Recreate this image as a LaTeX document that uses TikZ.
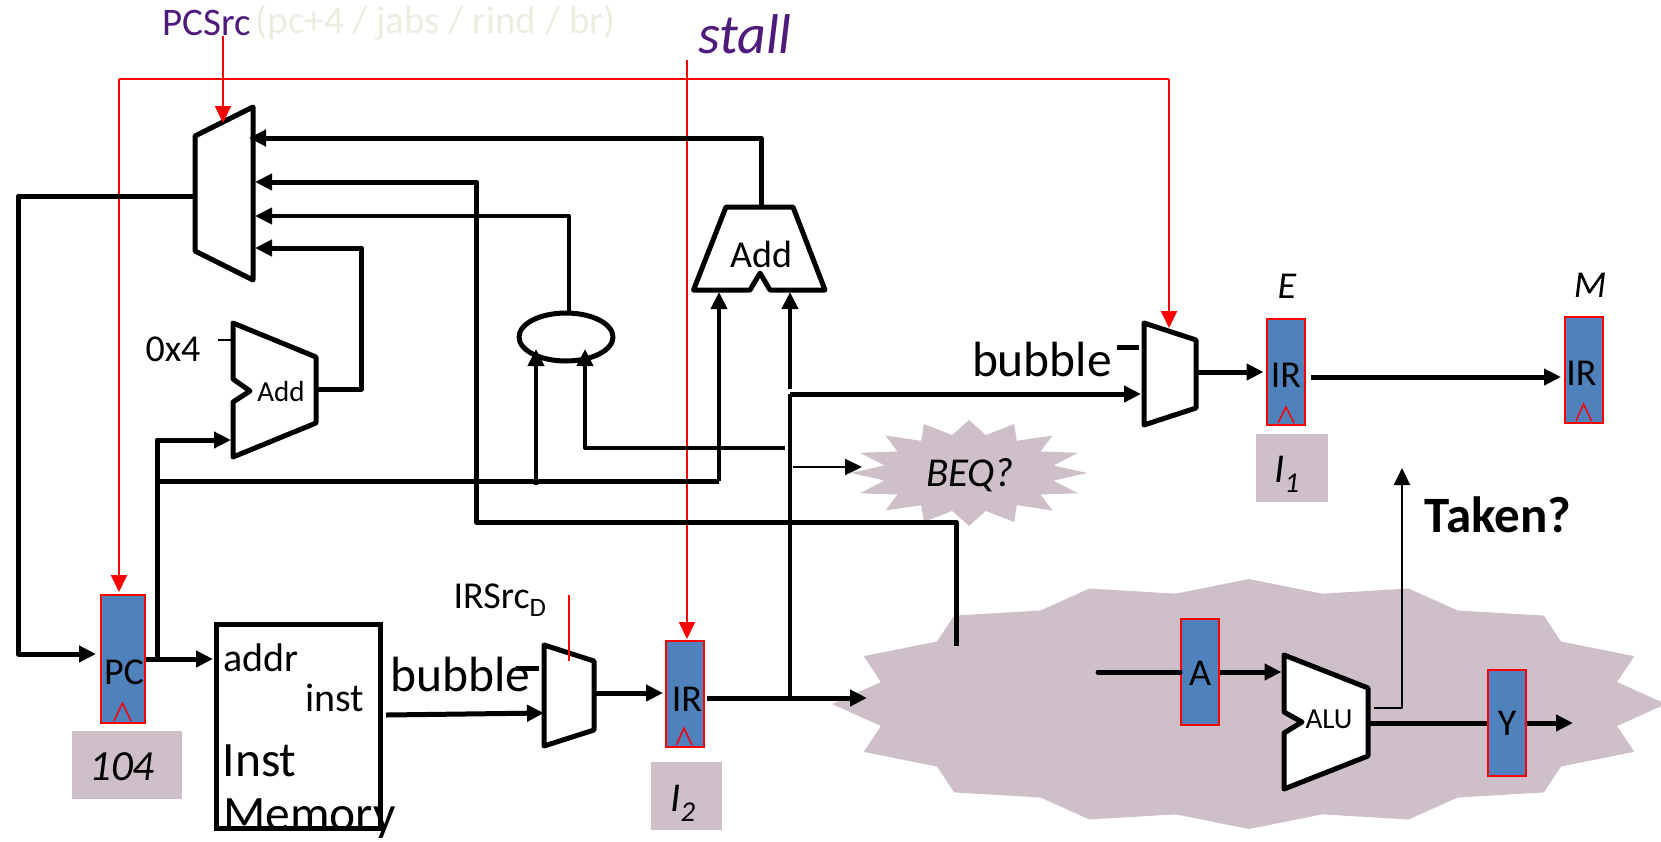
\documentclass[tikz,border=0pt]{standalone}
\usepackage{fontspec}
\setmainfont{Carlito}
\usetikzlibrary{arrows.meta}
\definecolor{regblue}{HTML}{4F81BD}
\definecolor{hazefill}{HTML}{CFBFC9}
\definecolor{signalpurple}{HTML}{4F1A7C}
\definecolor{fadedtan}{HTML}{EEECE1}
\tikzset{
  >={Triangle[length=17pt,width=16pt]},
  wire/.style={line width=5pt,line join=round},
  midwire/.style={line width=4pt,line join=round},
  thinwire/.style={line width=2pt,line join=round},
  redwire/.style={line width=2pt,red,line join=round},
  unit/.style={line width=5pt,line join=round,fill=white},
  pipereg/.style={draw=red,fill=regblue,line width=2pt,inner sep=0pt,minimum width=38pt,minimum height=106pt},
  clockmark/.style={line width=1.5pt,red},
  greybox/.style={fill=hazefill,inner sep=0pt},
  txt/.style={inner sep=0pt,font=\fontsize{38}{40}\selectfont},
  bigtxt/.style={inner sep=0pt,font=\fontsize{49.5}{52}\selectfont},
  smalltxt/.style={inner sep=0pt,font=\fontsize{29}{30}\selectfont},
  italtxt/.style={inner sep=0pt,font=\fontsize{41}{44}\selectfont\itshape}
}
\begin{document}
\begin{tikzpicture}[x=1pt,y=-1pt]
  \useasboundingbox (0,0) rectangle (1661,841);
  % burst shapes
  \fill[hazefill] plot[samples at={0,...,31},variable=\k] ({969+118*cos(\k*11.25)*(1-.27*mod(\k,2))},{473+53*sin(\k*11.25)*(1-.27*mod(\k,2))}) -- cycle;
  \fill[hazefill] plot[samples at={0,...,31},variable=\k] ({1249+417*cos(\k*11.25)*(1-.1*mod(\k,2))},{704+125*sin(\k*11.25)*(1-.1*mod(\k,2))}) -- cycle;
  \node[italtxt] (beq) at (970,475) {BEQ?};
  % value boxes
  \node[greybox,minimum width=110pt,minimum height=68pt] (pcval) at (127,765) {};
  \node[italtxt,font=\fontsize{43}{46}\selectfont\itshape] (pcvaltext) at (122,767) {104};
  \node[greybox,minimum width=71pt,minimum height=68pt] (itwo) at (686.5,796) {};
  \node[italtxt] (itwotext) at (683,803) {I\textsubscript{2}};
  \node[greybox,minimum width=72pt,minimum height=68pt] (ione) at (1292,468) {};
  \node[italtxt] (ionetext) at (1287,474) {I\textsubscript{1}};
  % control lines at the back
  \coordinate (stalltop) at (687,60);
  \coordinate (ctrlleft) at (119,79);
  \coordinate (ctrlright) at (1169,79);
  \coordinate (pcstall) at (119,592);
  \coordinate (muxestall) at (1169,328);
  \coordinate (irdstall) at (687,639);
  \draw[redwire,->] (ctrlleft) -- (pcstall);
  \draw[redwire] (ctrlleft) -- (ctrlright);
  \draw[redwire,->] (ctrlright) -- (muxestall);
  \draw[redwire,->] (stalltop) -- (irdstall);
  % muxes and adders
  \draw[unit] (195,136) -- (253,107) -- (253,280) -- (195,251) -- cycle;
  \draw[unit] (544,645) -- (594,661) -- (594,730) -- (544,746) -- cycle;
  \draw[unit] (1144,323) -- (1196,340) -- (1196,408) -- (1144,425) -- cycle;
  \draw[unit] (726,207) -- (793,207) -- (825,290) -- (770,290) -- (760,273) -- (750,290) -- (693.5,290) -- cycle;
  \node[txt] (addbtext) at (761,254) {Add};
  \draw[unit] (233,323) -- (316,357) -- (316,423) -- (233,457) -- (233,402) -- (250,391) -- (233,379) -- cycle;
  \node[smalltxt] (addpctext) at (281,392) {Add};
  \draw[unit] (1284,655) -- (1368,688) -- (1368,756) -- (1284,789) -- (1284,733) -- (1302,722) -- (1284,712) -- cycle;
  \node[smalltxt] (alutext) at (1329,719) {ALU};
  \draw[unit] (566,337) ellipse (47 and 24);
  \node[draw,line width=5pt,fill=white,inner sep=0pt,minimum width=164pt,minimum height=204pt] (imem) at (298,726) {};
  % registers
  \node[pipereg,minimum width=44pt,minimum height=128pt] (pc) at (123,659) {};
  \node[pipereg] (ird) at (685,694) {};
  \node[pipereg] (ire) at (1286,371.5) {};
  \node[pipereg] (irm) at (1584,370) {};
  \node[pipereg] (rega) at (1200,672) {};
  \node[pipereg] (regy) at (1507,723) {};
  \node[txt] (pctext) at (124,672) {PC};
  \node[txt] (irdtext) at (687,699) {IR};
  \node[txt] (iretext) at (1286,375) {IR};
  \node[txt] (irmtext) at (1581.5,373) {IR};
  \node[txt] (regatext) at (1200,673) {A};
  \node[txt] (regytext) at (1507,723) {Y};
  \draw[clockmark] (114,721) -- (122.5,703) -- (131,721);
  \draw[clockmark] (676.5,745) -- (684,728) -- (692,745);
  \draw[clockmark] (1278,423) -- (1286,407) -- (1294,423);
  \draw[clockmark] (1576,421) -- (1583.5,404) -- (1591.5,421);
  % named ends of the data wires
  \coordinate (pcmuxout) at (195,196);
  \coordinate (pcback) at (18.5,196);
  \coordinate (pcin) at (96,654);
  \coordinate (pcout) at (146,659);
  \coordinate (imemin) at (213,659);
  \coordinate (pcbranch) at (157,659);
  \coordinate (addpcin) at (231,440);
  \coordinate (pcbus) at (157,481);
  \coordinate (addbleft) at (719,292);
  \coordinate (addbright) at (790,292);
  \coordinate (addbright0) at (790,389);
  \coordinate (addbout) at (761,206);
  \coordinate (muxin1) at (249,138);
  \coordinate (muxin2) at (255,182);
  \coordinate (muxin3) at (255,216);
  \coordinate (muxin4) at (255,248);
  \coordinate (jump1) at (476.5,522);
  \coordinate (jump2) at (956,522);
  \coordinate (jump3) at (956,646);
  \coordinate (cmptop) at (569,313);
  \coordinate (addpcout) at (316,389);
  \coordinate (addpccorner) at (361.5,389);
  \coordinate (cmpleft) at (536,349);
  \coordinate (cmpleft0) at (536,485);
  \coordinate (cmpright) at (585,349);
  \coordinate (cmpright0) at (784.5,448);
  \coordinate (beqin0) at (792.5,467);
  \coordinate (beqin) at (862,467);
  \coordinate (irdout) at (707,698);
  \coordinate (irdjoin) at (790,698);
  \coordinate (burstin) at (867,698);
  \coordinate (muxein) at (1141,394);
  \coordinate (muxein0) at (790,394);
  \coordinate (imemout) at (386,715);
  \coordinate (muxdin) at (544,713);
  \coordinate (muxdout) at (596,693);
  \coordinate (irdin) at (663,693);
  \coordinate (muxeout) at (1197,372);
  \coordinate (irein) at (1263.5,372);
  \coordinate (ireout) at (1311,377);
  \coordinate (irmin) at (1561,377);
  \coordinate (aluin) at (1281.5,672);
  \coordinate (ain0) at (1098,672);
  \coordinate (aluout) at (1368,723);
  \coordinate (yout) at (1573,723);
  \coordinate (takenout) at (1374,708);
  \coordinate (takentip) at (1402,468);
  % data wires
  \draw[wire,->] (pcmuxout) -- (pcback) |- (pcin);
  \draw[wire,->] (pcout) -- (imemin);
  \draw[wire,->] (pcbranch) |- (addpcin);
  \draw[wire] (pcbus) -- (addbleft |- pcbus);
  \draw[midwire,->] (addbleft |- pcbus) -- (addbleft);
  \draw[midwire,->] (cmpleft0) -- (cmpleft);
  \draw[midwire,->] (cmpright0) -| (cmpright);
  \draw[wire,->] (addbout) |- (muxin1);
  \draw[wire,->] (jump3) -- (jump2) -- (jump1) |- (muxin2);
  \draw[midwire,->] (cmptop) |- (muxin3);
  \draw[wire,->] (addpcout) -- (addpccorner) |- (muxin4);
  \draw[midwire,->] (addbright0) -- (addbright);
  \draw[midwire] (irdjoin) -- (muxein0);
  \draw[wire,->] (muxein0) -- (muxein);
  \draw[thinwire,->] (beqin0) -- (beqin);
  \draw[wire,->] (irdout) -- (burstin);
  \draw[wire,->] (imemout) -- (muxdin);
  \draw[wire,->] (muxdout) -- (irdin);
  \draw[wire,->] (muxeout) -- (irein);
  \draw[wire,->] (ireout) -- (irmin);
  \draw[wire,line cap=round] (ain0) -- (rega.west);
  \draw[wire,->] (rega.east) -- (aluin);
  \draw[wire] (aluout) -- (regy.west);
  \draw[wire,->] (regy.east) -- (yout);
  \draw[thinwire,->] (takenout) -| (takentip);
  % stubs
  \coordinate (fourtick) at (218,340);
  \coordinate (fourin) at (233,340);
  \draw[thinwire] (fourtick) -- (fourin);
  \coordinate (bubbled0) at (516,668);
  \coordinate (bubbled) at (539,668);
  \draw[wire] (bubbled0) -- (bubbled);
  \coordinate (bubblee0) at (1117,347);
  \coordinate (bubblee) at (1139,347);
  \draw[wire] (bubblee0) -- (bubblee);
  % control signals on top
  \coordinate (pcsrctop) at (223,36);
  \coordinate (pcsrctip) at (223,123);
  \draw[redwire,->] (pcsrctop) -- (pcsrctip);
  \coordinate (irsrctop) at (569,595);
  \coordinate (irsrctip) at (569,661);
  \draw[redwire] (irsrctop) -- (irsrctip);
  % labels
  \node[txt,font=\fontsize{39}{42}\selectfont,text=signalpurple] (pcsrc) at (206.5,23) {PCSrc};
  \node[txt,font=\fontsize{39}{42}\selectfont,text=fadedtan] (pcsrcopts) at (435.5,23) {(pc+4 / jabs / rind / br)};
  \node[txt,font=\fontsize{56}{60}\selectfont\itshape,text=signalpurple] (stall) at (745,34) {stall};
  \node[txt] (four) at (173,349) {0x4};
  \node[txt,font=\fontsize{40}{42}\selectfont] (addr) at (261,658) {addr};
  \node[txt,font=\fontsize{40}{42}\selectfont] (inst) at (335,698) {inst};
  \node[bigtxt] (insttext) at (259.5,761) {Inst};
  \node[bigtxt] (memtext) at (309.5,819) {Memory};
  \node[bigtxt] (bubd) at (460.5,674) {bubble};
  \node[bigtxt] (bube) at (1042,359) {bubble};
  \node[txt] (irsrc) at (500,600) {IRSrc\textsubscript{D}};
  \node[italtxt,font=\fontsize{38}{40}\selectfont\itshape] (stageE) at (1287,286) {E};
  \node[italtxt,font=\fontsize{38}{40}\selectfont\itshape] (stageM) at (1590,285) {M};
  \node[bigtxt,font=\fontsize{51}{54}\selectfont\bfseries] (taken) at (1498,515) {Taken?};
\end{tikzpicture}
\end{document}
